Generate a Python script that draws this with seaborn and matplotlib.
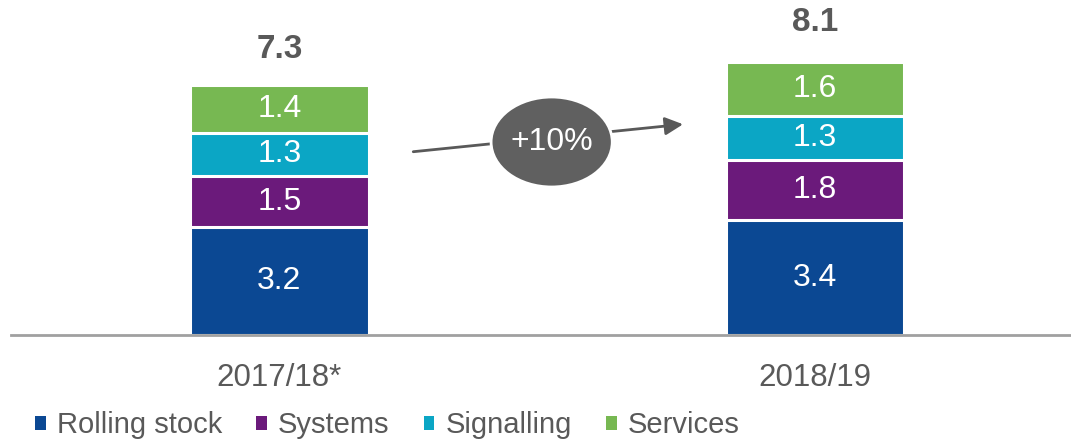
import matplotlib
matplotlib.use("Agg")
import matplotlib.pyplot as plt
import seaborn as sns
import pandas as pd
import numpy as np
from matplotlib.patches import Patch, Ellipse

years = ["2017/18*", "2018/19"]
segments = ["Rolling stock", "Systems", "Signalling", "Services"]
rolling_stock = [3.2, 3.4]
systems = [1.5, 1.8]
signalling = [1.3, 1.3]
services = [1.4, 1.6]
totals = [7.3, 8.1]
growth_label = "+10%"

colors = ["#0b4893", "#6b1a7b", "#0ba6c5", "#77b852"]

sns.set_theme(style="white")
plt.rcParams["font.family"] = ["Liberation Sans", "DejaVu Sans"]

W, H = 1071, 441
fig = plt.figure(figsize=(W / 100, H / 100), dpi=100)
base_px = 335
ax = fig.add_axes([11 / W, (H - base_px) / H, (W - 11) / W, base_px / H])

series = [rolling_stock, systems, signalling, services]
cum = np.cumsum(np.array(series), axis=0)

# draw cumulative bars from top down so each segment shows
for i in range(len(series) - 1, -1, -1):
    df = pd.DataFrame({"year": years, "value": cum[i]})
    sns.barplot(data=df, x="year", y="value", color=colors[i], width=0.333,
                edgecolor="white", linewidth=2.2, ax=ax, saturation=1)

# segment labels
for j in range(len(years)):
    bottom = 0
    for i, s in enumerate(series):
        ax.text(j, bottom + s[j] / 2, f"{s[j]:.1f}", ha="center", va="center",
                color="white", fontsize=23)
        bottom += s[j]
    ax.text(j, totals[j] + 1.15, f"{totals[j]:.1f}", ha="center", va="center",
            color="#595959", fontsize=24, fontweight="bold")

ax.set_xlim(-0.501, 1.478)
ax.set_ylim(0, base_px / 33.75)
ax.set_xlabel("")
ax.set_ylabel("")
ax.set_yticks([])
for sp in ["top", "right", "left"]:
    ax.spines[sp].set_visible(False)
ax.spines["bottom"].set_color("#a0a0a0")
ax.spines["bottom"].set_linewidth(2)
ax.tick_params(axis="x", length=0, pad=20, labelsize=22.5, labelcolor="#595959")

# growth arrow with ellipse
def px2data(px, py):
    return ((px - 280) / 535.0, (base_px - py) / 33.75)

x0, y0 = px2data(411, 152)
x1, y1 = px2data(686, 124)
ax.annotate("", xy=(x1, y1), xytext=(x0, y0),
            arrowprops=dict(arrowstyle="-|>,head_length=0.9,head_width=0.45",
                            color="#595959", lw=2))
ex, ey = px2data(552, 142)
ax.add_patch(Ellipse((ex, ey), 121 / 535.0, 90 / 33.75, facecolor="#606060",
                     edgecolor="white", linewidth=2, zorder=5))
ax.text(ex, ey, growth_label, ha="center", va="center", color="white",
        fontsize=23, zorder=6)

handles = [Patch(facecolor=c, edgecolor="none") for c in colors]
leg = fig.legend(handles, segments, loc="center left", bbox_to_anchor=(35 / W, 1 - 425 / H),
                 ncol=4, frameon=False, fontsize=21, handlelength=0.36, handleheight=0.36,
                 handletextpad=0.38, columnspacing=1.18, borderaxespad=0, borderpad=0)
for t in leg.get_texts():
    t.set_color("#595959")

fig.savefig("out.png", dpi=100)
